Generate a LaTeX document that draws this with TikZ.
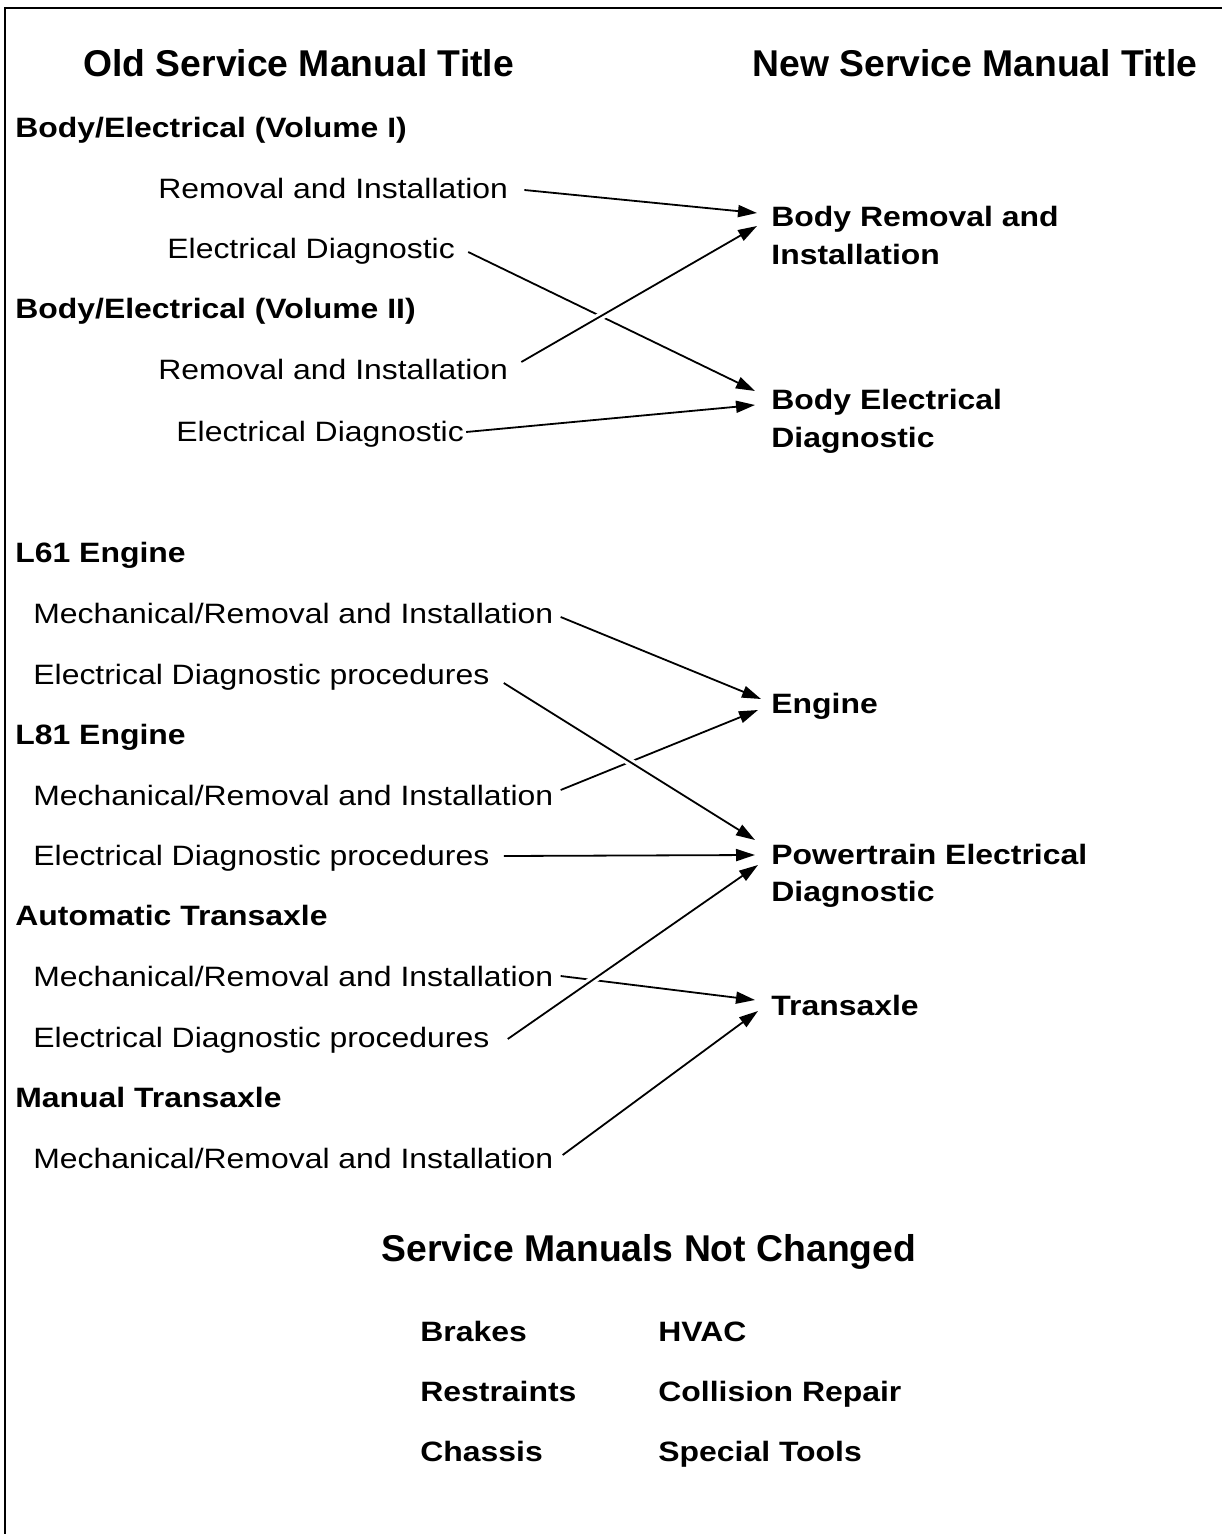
\documentclass[tikz,border=0pt]{standalone}
\usepackage{fontspec}
\setmainfont{Liberation Sans}
\newfontfamily\widefont{Liberation Sans}[FakeStretch=1.14]
\usetikzlibrary{arrows.meta}

\begin{document}
\begin{tikzpicture}
	[x=0.5pt,y=-0.5pt,every node/.style={inner sep=0pt,anchor=base west},
	title/.style={font=\fontsize{18.65}{22}\selectfont\bfseries},
	head/.style={font=\widefont\fontsize{14}{17}\selectfont\bfseries},
	item/.style={font=\widefont\fontsize{14}{17}\selectfont},
	arr/.style={-{Triangle[length=9.5pt,width=6pt]},line width=0.9pt},
	over/.style={preaction={draw=white,line width=4pt}}]
	\useasboundingbox (0,0) rectangle (1222,1534);
	\draw[line width=1.2pt] (5,1534) -- (5,8) -- (1222,8);

	\node[title] (old) at (83,77) {Old Service Manual Title};
	\node[title] (new) at (752,77) {New Service Manual Title};

	\node[head] (bev1) at (15,138) {Body/Electrical (Volume I)};
	\node[item] (ri1) at (158,199) {Removal and Installation};
	\node[item] (ed1) at (167,259) {Electrical Diagnostic};
	\node[head] (bev2) at (15,319) {Body/Electrical (Volume II)};
	\node[item] (ri2) at (158,380) {Removal and Installation};
	\node[item] (ed2) at (176,441) {Electrical Diagnostic};
	\node[head] (l61) at (15,562) {L61 Engine};
	\node[item] (mi1) at (33,623) {Mechanical/Removal and Installation};
	\node[item] (ep1) at (33,684) {Electrical Diagnostic procedures};
	\node[head] (l81) at (15,744) {L81 Engine};
	\node[item] (mi2) at (33,805) {Mechanical/Removal and Installation};
	\node[item] (ep2) at (33,865) {Electrical Diagnostic procedures};
	\node[head] (atx) at (15,925) {Automatic Transaxle};
	\node[item] (mi3) at (33,986) {Mechanical/Removal and Installation};
	\node[item] (ep3) at (33,1047) {Electrical Diagnostic procedures};
	\node[head] (mtx) at (15,1107) {Manual Transaxle};
	\node[item] (mi4) at (33,1168) {Mechanical/Removal and Installation};

	\node[head] (bri) at (771,227) {Body Removal and};
	\node[head] (bri2) at (771,265) {Installation};
	\node[head] (bed) at (771,409) {Body Electrical};
	\node[head] (bed2) at (771,447) {Diagnostic};
	\node[head] (eng) at (771,713) {Engine};
	\node[head] (ped) at (771,864) {Powertrain Electrical};
	\node[head] (ped2) at (771,901) {Diagnostic};
	\node[head] (trx) at (771,1015) {Transaxle};

	\node[title] (nc) at (381,1261) {Service Manuals Not Changed};
	\node[head] (brk) at (420,1341) {Brakes};
	\node[head] (hvac) at (658,1341) {HVAC};
	\node[head] (rst) at (420,1401) {Restraints};
	\node[head] (col) at (658,1401) {Collision Repair};
	\node[head] (chs) at (420,1461) {Chassis};
	\node[head] (spt) at (658,1461) {Special Tools};

	\draw[arr] ([shift={(13,-7)}]ed1.base east) -- ([shift={(-16,-18)}]bed.base west);
	\draw[arr] ([shift={(7,-15)}]mi2.base east) -- ([shift={(-13,-3)}]eng.base west);
	\draw[arr] ([shift={(7,-10)}]mi3.base east) -- ([shift={(-16,-15)}]trx.base west);
	\draw[arr,over] ([shift={(13,-18)}]ri2.base east) -- ([shift={(-14,-1)}]bri.base west);
	\draw[arr,over] ([shift={(14,-1)}]ep1.base east) -- ([shift={(-16,-24)}]ped.base west);
	\draw[arr,over] ([shift={(18,-8)}]ep3.base east) -- ([shift={(-13,1)}]ped.base west);
	\draw[arr] ([shift={(16,-9)}]ri1.base east) -- ([shift={(-14,-14)}]bri.base west);
	\draw[arr] ([shift={(2,-9)}]ed2.base east) -- ([shift={(-16,-4)}]bed.base west);
	\draw[arr] ([shift={(7,-6)}]mi1.base east) -- ([shift={(-10,-14)}]eng.base west);
	\draw[arr] ([shift={(14,-9)}]ep2.base east) -- ([shift={(-16,-9)}]ped.base west);
	\draw[arr] ([shift={(9,-13)}]mi4.base east) -- ([shift={(-13,-4)}]trx.base west);
\end{tikzpicture}
\end{document}
